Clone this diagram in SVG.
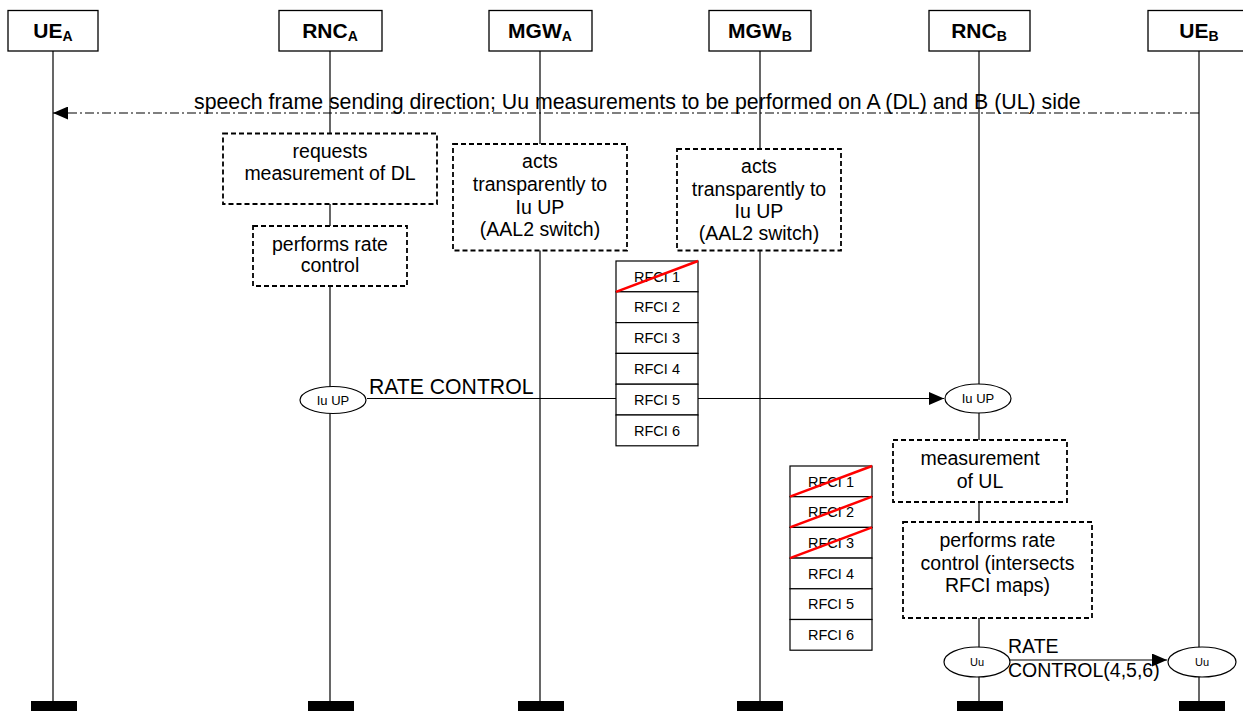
<svg xmlns="http://www.w3.org/2000/svg" width="1243" height="711" viewBox="0 0 1243 711">
<style>
  text { font-family: "Liberation Sans", Arial, sans-serif; fill: #000; }
  .hdr { fill: #fff; stroke: #000; stroke-width: 1.3; }
  .hdrt { font-size: 21px; font-weight: bold; text-anchor: middle; }
  .life { stroke: #000; stroke-width: 1.2; fill: none; }
  .bar { fill: #000; }
  .note { fill: #fff; stroke: #000; stroke-width: 1.8; stroke-dasharray: 5 3; }
  .nt { font-size: 19.5px; text-anchor: middle; }
  .cell { fill: #fff; stroke: #000; stroke-width: 1.2; }
  .ct { font-size: 14.5px; text-anchor: middle; }
  .x { stroke: #ff0000; stroke-width: 2.5; }
  .ell { fill: #fff; stroke: #000; stroke-width: 1.2; }
  .msg { stroke: #000; stroke-width: 1.2; fill: none; }
</style>
<defs>
  <marker id="ah" markerUnits="userSpaceOnUse" markerWidth="15" markerHeight="13" refX="15" refY="6.5" orient="auto">
    <path d="M0,0 L15,6.5 L0,13 z" fill="#000"/>
  </marker>
</defs>
<rect width="1243" height="711" fill="#fff"/>

<g id="lifelines">
  <line class="life" x1="53" y1="51" x2="53" y2="702"/>
  <line class="life" x1="330" y1="51" x2="330" y2="702"/>
  <line class="life" x1="540" y1="51" x2="540" y2="702"/>
  <line class="life" x1="760" y1="51" x2="760" y2="702"/>
  <line class="life" x1="979" y1="51" x2="979" y2="702"/>
  <line class="life" x1="1199" y1="51" x2="1199" y2="702"/>
  <rect class="bar" x="31" y="701" width="46" height="10"/>
  <rect class="bar" x="308" y="701" width="46" height="10"/>
  <rect class="bar" x="518" y="701" width="46" height="10"/>
  <rect class="bar" x="737" y="701" width="46" height="10"/>
  <rect class="bar" x="957" y="701" width="46" height="10"/>
  <rect class="bar" x="1179" y="701" width="46" height="10"/>
</g>

<g id="connectors">
  <line class="msg" x1="1199" y1="113" x2="53" y2="113" stroke-dasharray="9 3 2 3" marker-end="url(#ah)"/>
  <text x="194" y="109" font-size="21.3px">speech frame sending direction; Uu measurements to be performed on A (DL) and B (UL) side</text>
  <line class="msg" x1="367" y1="398.5" x2="944" y2="398.5" marker-end="url(#ah)"/>
  <text x="369" y="394" font-size="21.2px">RATE CONTROL</text>
  <line class="msg" x1="1010" y1="660" x2="1167" y2="660" marker-end="url(#ah)"/>
  <text x="1008" y="653" font-size="19.5px">RATE</text>
  <text x="1008" y="677" font-size="19.5px">CONTROL(4,5,6)</text>
</g>

<g id="UE_A">
  <rect class="hdr" x="8" y="10.5" width="90" height="40.5"/>
  <text class="hdrt" x="53" y="38">UE<tspan font-size="14px" dy="3">A</tspan></text>
</g>
<g id="RNC_A">
  <rect class="hdr" x="279" y="10.5" width="103" height="40.5"/>
  <text class="hdrt" x="330" y="38">RNC<tspan font-size="14px" dy="3">A</tspan></text>
</g>
<g id="MGW_A">
  <rect class="hdr" x="489" y="10.5" width="103" height="40.5"/>
  <text class="hdrt" x="540" y="38">MGW<tspan font-size="14px" dy="3">A</tspan></text>
</g>
<g id="MGW_B">
  <rect class="hdr" x="709" y="10.5" width="102" height="40.5"/>
  <text class="hdrt" x="760" y="38">MGW<tspan font-size="14px" dy="3">B</tspan></text>
</g>
<g id="RNC_B">
  <rect class="hdr" x="929" y="10.5" width="101" height="40.5"/>
  <text class="hdrt" x="979" y="38">RNC<tspan font-size="14px" dy="3">B</tspan></text>
</g>
<g id="UE_B">
  <rect class="hdr" x="1148" y="10.5" width="102" height="40.5"/>
  <text class="hdrt" x="1199" y="38">UE<tspan font-size="14px" dy="3">B</tspan></text>
</g>

<g id="note_rnca_req">
  <rect class="note" x="223" y="133.5" width="214" height="70.5"/>
  <text class="nt" x="330" y="158">requests</text>
  <text class="nt" x="330" y="180">measurement of DL</text>
</g>
<g id="note_rnca_rc">
  <rect class="note" x="253" y="226" width="154" height="60"/>
  <text class="nt" x="330" y="251">performs rate</text>
  <text class="nt" x="330" y="272">control</text>
</g>
<g id="note_mgwa">
  <rect class="note" x="453" y="144" width="174" height="106.5"/>
  <text class="nt" x="540" y="168">acts</text>
  <text class="nt" x="540" y="191">transparently to</text>
  <text class="nt" x="540" y="213.5">Iu UP</text>
  <text class="nt" x="540" y="236">(AAL2 switch)</text>
</g>
<g id="note_mgwb">
  <rect class="note" x="677" y="149" width="164" height="101.5"/>
  <text class="nt" x="759" y="173">acts</text>
  <text class="nt" x="759" y="195.5">transparently to</text>
  <text class="nt" x="759" y="217.5">Iu UP</text>
  <text class="nt" x="759" y="240">(AAL2 switch)</text>
</g>

<g id="rfci_table_a">
  <rect class="cell" x="616" y="261" width="82" height="30.8"/>
  <rect class="cell" x="616" y="291.8" width="82" height="30.8"/>
  <rect class="cell" x="616" y="322.6" width="82" height="30.8"/>
  <rect class="cell" x="616" y="353.4" width="82" height="30.8"/>
  <rect class="cell" x="616" y="384.2" width="82" height="30.8"/>
  <rect class="cell" x="616" y="415" width="82" height="30.8"/>
  <text class="ct" x="657" y="281.5">RFCI 1</text>
  <text class="ct" x="657" y="312.3">RFCI 2</text>
  <text class="ct" x="657" y="343.1">RFCI 3</text>
  <text class="ct" x="657" y="373.9">RFCI 4</text>
  <text class="ct" x="657" y="404.7">RFCI 5</text>
  <text class="ct" x="657" y="435.5">RFCI 6</text>
  <line class="x" x1="616" y1="291.8" x2="698" y2="261"/>
</g>

<g id="iuup_a">
  <ellipse class="ell" cx="333" cy="400" rx="33" ry="13.5"/>
  <text x="333" y="404.5" font-size="13px" text-anchor="middle">Iu UP</text>
</g>
<g id="iuup_b">
  <ellipse class="ell" cx="978" cy="398.5" rx="33" ry="14.5"/>
  <text x="978" y="403" font-size="13px" text-anchor="middle">Iu UP</text>
</g>

<g id="note_rncb_meas">
  <rect class="note" x="893" y="440" width="174" height="62"/>
  <text class="nt" x="980" y="465">measurement</text>
  <text class="nt" x="980" y="488">of UL</text>
</g>
<g id="note_rncb_rc">
  <rect class="note" x="903" y="522" width="189" height="96"/>
  <text class="nt" x="997.5" y="547">performs rate</text>
  <text class="nt" x="997.5" y="569.5">control (intersects</text>
  <text class="nt" x="997.5" y="592">RFCI maps)</text>
</g>

<g id="rfci_table_b">
  <rect class="cell" x="790" y="466" width="82" height="30.7"/>
  <rect class="cell" x="790" y="496.7" width="82" height="30.7"/>
  <rect class="cell" x="790" y="527.4" width="82" height="30.7"/>
  <rect class="cell" x="790" y="558.1" width="82" height="30.7"/>
  <rect class="cell" x="790" y="588.8" width="82" height="30.7"/>
  <rect class="cell" x="790" y="619.5" width="82" height="30.7"/>
  <text class="ct" x="831" y="486.5">RFCI 1</text>
  <text class="ct" x="831" y="517.2">RFCI 2</text>
  <text class="ct" x="831" y="547.9">RFCI 3</text>
  <text class="ct" x="831" y="578.6">RFCI 4</text>
  <text class="ct" x="831" y="609.3">RFCI 5</text>
  <text class="ct" x="831" y="640">RFCI 6</text>
  <line class="x" x1="790" y1="496.7" x2="872" y2="466"/>
  <line class="x" x1="790" y1="527.4" x2="872" y2="496.7"/>
  <line class="x" x1="790" y1="558.1" x2="872" y2="527.4"/>
</g>

<g id="uu_rncb">
  <ellipse class="ell" cx="977" cy="662" rx="33" ry="15"/>
  <text x="977" y="666" font-size="11px" text-anchor="middle">Uu</text>
</g>
<g id="uu_ueb">
  <ellipse class="ell" cx="1202" cy="662" rx="34" ry="15"/>
  <text x="1202" y="666" font-size="11px" text-anchor="middle">Uu</text>
</g>
</svg>
